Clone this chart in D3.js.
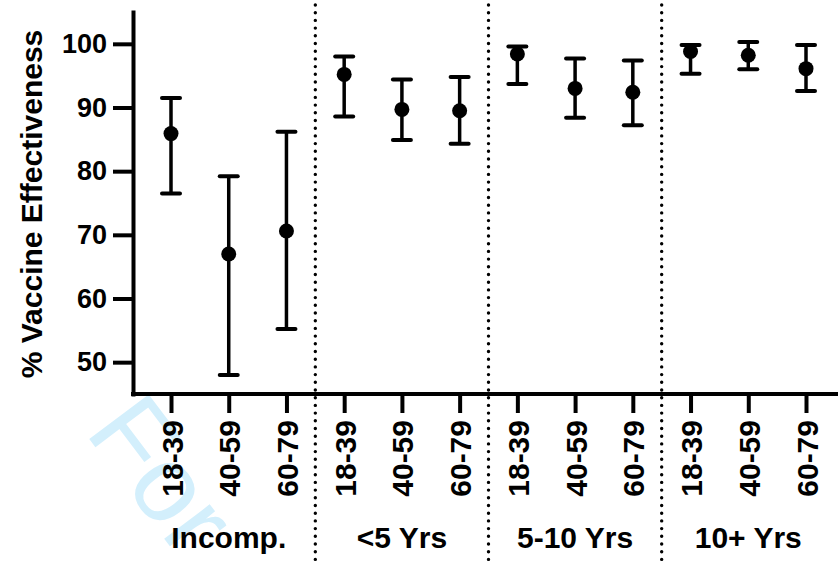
<!DOCTYPE html>
<html>
<head>
<meta charset="utf-8">
<script src="https://cdn.jsdelivr.net/npm/d3@7"></script>
<style>
  body { margin: 0; background: #fff; }
  svg { display: block; font-family: "Liberation Sans", Arial, sans-serif; }
</style>
</head>
<body>
<script>
// groups along the x axis, each with three age bands
const groups = ["Incomp.", "<5 Yrs", "5-10 Yrs", "10+ Yrs"];
const ages = ["18-39", "40-59", "60-79"];

// vaccine effectiveness (%) with lower / upper limits, in group order
const ve    = [85.9, 67.0, 70.6, 95.2, 89.7, 89.5, 98.4, 93.0, 92.4, 98.8, 98.2, 96.1];
const lower = [76.5, 48.0, 55.2, 88.6, 84.9, 84.3, 93.7, 88.4, 87.2, 95.3, 96.0, 92.6];
const upper = [91.5, 79.2, 86.2, 98.0, 94.4, 94.8, 99.6, 97.7, 97.4, 99.8, 100.3, 99.8];

const yTicks = [50, 60, 70, 80, 90, 100];

const width = 838, height = 563;

let rows = [];
groups.forEach((g, gi) => {
	ages.forEach((a, ai) => {
		let i = gi * ages.length + ai;
		rows.push({key: g + "|" + a, group: g, age: a, v: ve[i], lo: lower[i], hi: upper[i]});
	});
});

let svg = d3.select("body").append("svg").attr("width", width).attr("height", height);

// watermark behind everything (only "For" shows inside the picture)
svg.append("text")
	.attr("transform", "translate(84,432) rotate(53)")
	.attr("font-size", 108)
	.attr("fill", "#d3effc")
	.text("For");

let x = d3.scalePoint().domain(rows.map(d => d.key)).range([171, 806]);
let y = d3.scaleLinear().domain([45, 105]).range([394, 12]);

let left = 133, bottom = 394;

// dotted dividers between groups
let dividers = [];
for (let gi = 1; gi < groups.length; gi++) {
	let a = x(rows[gi * 3 - 1].key), b = x(rows[gi * 3].key);
	dividers.push((a + b) / 2);
}
svg.selectAll(".divider").data(dividers).enter().append("line")
	.attr("class", "divider")
	.attr("x1", d => d).attr("x2", d => d)
	.attr("y1", 5).attr("y2", height)
	.attr("stroke", "#000")
	.attr("stroke-width", 3.4)
	.attr("stroke-linecap", "round")
	.attr("stroke-dasharray", "0 7.7");

// y axis
let yAxis = svg.append("g")
	.attr("transform", `translate(${left},0)`)
	.call(d3.axisLeft(y).tickValues(yTicks).tickSize(20).tickSizeOuter(0).tickPadding(6));
yAxis.select(".domain").attr("stroke-width", 4).attr("stroke-linecap", "square");
yAxis.selectAll(".tick line").attr("stroke-width", 4);
yAxis.selectAll(".tick text")
	.attr("font-size", 27).attr("font-weight", "bold").attr("fill", "#000")
	.attr("font-family", "'Liberation Sans', Arial, sans-serif");

// x axis
let xAxis = svg.append("g")
	.attr("transform", `translate(0,${bottom})`)
	.call(d3.axisBottom(x).tickSize(19).tickSizeOuter(0).tickFormat(k => k.split("|")[1]));
xAxis.select(".domain").remove();
xAxis.append("line")
	.attr("x1", left).attr("x2", width + 2)
	.attr("stroke", "#000").attr("stroke-width", 4).attr("stroke-linecap", "square");
xAxis.selectAll(".tick line").attr("stroke-width", 4);
xAxis.selectAll(".tick text")
	.attr("font-size", 30).attr("font-weight", "bold").attr("fill", "#000")
	.attr("font-family", "'Liberation Sans', Arial, sans-serif")
	.attr("text-anchor", "end")
	.attr("dy", null)
	.attr("transform", "translate(11,26) rotate(-90)")
	.attr("x", 0).attr("y", 0);

// group labels
svg.selectAll(".glabel").data(groups).enter().append("text")
	.attr("class", "glabel")
	.attr("x", (g, gi) => d3.mean(rows.slice(gi * 3, gi * 3 + 3), d => x(d.key)))
	.attr("y", 548)
	.attr("text-anchor", "middle")
	.attr("font-size", 30).attr("font-weight", "bold")
	.text(d => d);

// y axis title
svg.append("text")
	.attr("transform", `translate(42,${(y(45) + 14) / 2}) rotate(-90)`)
	.attr("text-anchor", "middle")
	.attr("font-size", 30).attr("font-weight", "bold")
	.text("% Vaccine Effectiveness");

// error bars
let bars = svg.selectAll(".bar").data(rows).enter().append("g").attr("class", "bar");
bars.append("line")
	.attr("x1", d => x(d.key)).attr("x2", d => x(d.key))
	.attr("y1", d => y(d.lo)).attr("y2", d => y(d.hi))
	.attr("stroke", "#000").attr("stroke-width", 3.5);
bars.selectAll(".cap").data(d => [d.lo, d.hi].map(v => ({k: d.key, v: v}))).enter().append("line")
	.attr("class", "cap")
	.attr("x1", d => x(d.k) - 9).attr("x2", d => x(d.k) + 9)
	.attr("y1", d => y(d.v)).attr("y2", d => y(d.v))
	.attr("stroke", "#000").attr("stroke-width", 4).attr("stroke-linecap", "round");
bars.append("circle")
	.attr("cx", d => x(d.key)).attr("cy", d => y(d.v))
	.attr("r", 7.5).attr("fill", "#000");
</script>
</body>
</html>
